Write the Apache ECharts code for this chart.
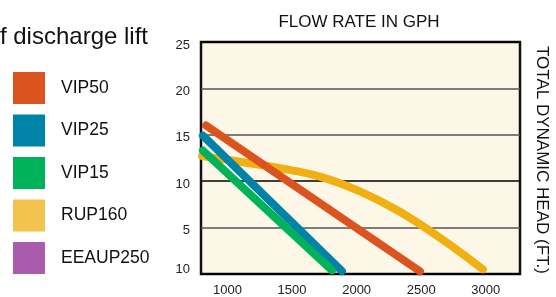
<!DOCTYPE html>
<html>
<head>
<meta charset="utf-8">
<script src="https://cdn.jsdelivr.net/npm/echarts@6/dist/echarts.min.js"></script>
<style>
  html, body { margin: 0; padding: 0; background: #ffffff; }
  #main { width: 556px; height: 297px; }
</style>
</head>
<body>
<div id="main"></div>
<script>
var mychart = echarts.init(document.getElementById('main'));

// flow rate (GPH) / total dynamic head (ft)
var vip50 = [[834, 16.0], [2490, 0.3]];
var vip25 = [[810, 14.9], [1886, 0.3]];
var vip15 = [[810, 13.3], [1809, 0.4]];
var rup160 = [[803, 12.7], [1097, 12.1], [1406, 11.4], [1716, 10.5], [2026, 8.9],
              [2335, 6.7], [2645, 3.9], [2978, 0.5]];
var eeaup250 = [];

var legend_names = ['VIP50', 'VIP25', 'VIP15', 'RUP160', 'EEAUP250'];
var x_ticks = [1000, 1500, 2000, 2500, 3000];

const sans = "'Liberation Sans', Arial, sans-serif";

function line(name, data, color, legendColor) {
    return {
        name: name,
        type: 'line',
        data: data,
        showSymbol: false,
        symbol: 'none',
        smooth: name === 'RUP160' ? 0.4 : false,
        itemStyle: { color: legendColor || color },
        lineStyle: { color: color, width: 8, cap: 'round', join: 'round' }
    };
}

var option = {
    animation: false,
    backgroundColor: '#ffffff',
    grid: {
        left: 201, top: 42, width: 319, height: 235,
        show: true,
        backgroundColor: '#fdf7e8',
        borderColor: '#111',
        borderWidth: 2.5
    },
    legend: {
        orient: 'vertical',
        left: 13,
        top: 72,
        padding: 0,
        icon: 'rect',
        itemWidth: 32,
        itemHeight: 32,
        itemGap: 10.5,
        selectedMode: false,
        data: legend_names,
        textStyle: {
            fontFamily: sans,
            fontSize: 17.5,
            color: '#111',
            padding: [0, 0, 0, 11]
        }
    },
    xAxis: {
        type: 'value',
        min: 795,
        max: 3265,
        axisLine: { show: false },
        axisTick: { show: false },
        splitLine: { show: false },
        axisLabel: {
            customValues: x_ticks,
            formatter: function (v) { return String(v); },
            fontFamily: sans,
            fontSize: 13,
            color: '#222',
            margin: 10
        }
    },
    yAxis: {
        type: 'value',
        min: 0,
        max: 25,
        interval: 5,
        axisLine: { show: false },
        axisTick: { show: false },
        splitLine: {
            show: true,
            lineStyle: { color: ['#000', '#555', '#000', '#555', '#555', '#000'], width: 1.5 }
        },
        axisLabel: {
            fontFamily: sans,
            fontSize: 13,
            color: '#222',
            margin: 11,
            formatter: function (v) { return v === 0 ? '{b|10}' : '{a|' + v + '}'; },
            rich: {
                a: { fontFamily: sans, fontSize: 13, color: '#222', padding: [6, 0, 0, 0] },
                b: { fontFamily: sans, fontSize: 13, color: '#222', padding: [0, 0, 10, 0] }
            }
        }
    },
    graphic: [
        {
            type: 'text', x: 359, y: 22,
            style: {
                text: 'FLOW RATE IN GPH', fontFamily: sans, fontSize: 17,
                fill: '#111', align: 'center', verticalAlign: 'middle'
            }
        },
        {
            type: 'text', x: 542, y: 160, rotation: -Math.PI / 2,
            style: {
                text: 'TOTAL DYNAMIC HEAD (FT.)', fontFamily: sans, fontSize: 17,
                fill: '#111', align: 'center', verticalAlign: 'middle'
            }
        },
        {
            type: 'text', x: 148, y: 37,
            style: {
                text: 'f discharge lift', fontFamily: sans, fontSize: 24,
                fill: '#111', align: 'right', verticalAlign: 'middle'
            }
        }
    ],
    series: [
        line('RUP160', rup160, '#f0b012', '#f2c34e'),
        line('VIP50', vip50, '#db5420'),
        line('VIP25', vip25, '#0083a8'),
        line('VIP15', vip15, '#00b259'),
        line('EEAUP250', eeaup250, '#a95cad')
    ]
};

mychart.setOption(option);
</script>
</body>
</html>
